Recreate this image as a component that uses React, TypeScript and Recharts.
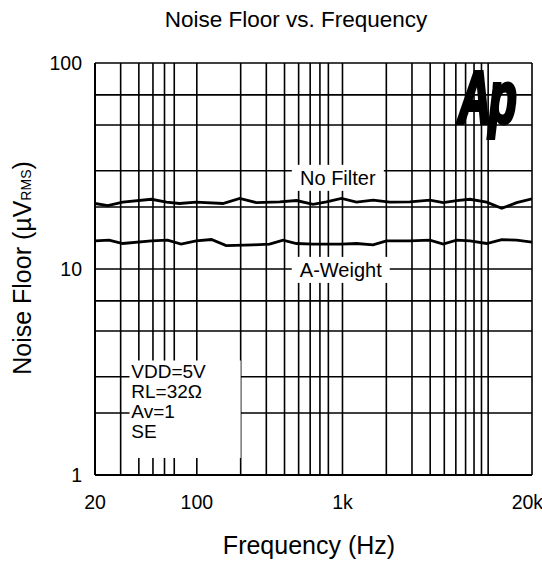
import {
  CartesianGrid,
  Line,
  LineChart,
  ReferenceArea,
  ReferenceDot,
  XAxis,
  YAxis,
} from "recharts";

const noFilterFreq = [20, 24.5, 31, 48.7, 62, 76, 99, 151, 197, 256, 371, 483, 628, 776, 984, 1248, 1623, 2114, 2900, 3980, 4915, 6070, 7500, 9770, 12390, 15700, 20000];
const noFilterVals = [20.8, 20.3, 21.1, 21.8, 21.1, 20.8, 21.1, 20.8, 22.0, 21.0, 21.2, 21.5, 20.6, 21.2, 22.0, 21.1, 21.6, 21.1, 21.2, 21.6, 21.0, 21.5, 21.8, 21.1, 19.7, 21.0, 21.9];

const aWeightFreq = [20, 25, 31, 48.7, 63, 78, 99, 126, 159, 243, 316, 391, 483, 628, 818, 984, 1248, 1623, 2000, 2900, 3980, 4915, 6070, 7500, 9770, 12390, 15700, 20000];
const aWeightVals = [13.7, 13.8, 13.3, 13.7, 13.8, 13.2, 13.7, 13.9, 13.0, 13.1, 13.2, 13.8, 13.3, 13.2, 13.2, 13.2, 13.3, 13.1, 13.7, 13.7, 13.8, 13.2, 13.8, 13.7, 13.3, 13.9, 13.8, 13.5];

const xTicks = [20, 100, 1000, 20000];
const xTickLabels = ["20", "100", "1k", "20k"];
const yTicks = [1, 10, 100];
const xGrid = [20, 30, 40, 50, 60, 70, 80, 90, 100, 200, 300, 400, 500, 600, 700, 800, 900, 1000, 2000, 3000, 4000, 5000, 6000, 7000, 8000, 9000, 10000, 20000];
const yGrid = [1, 2, 3, 4, 5, 6, 7, 8, 9, 10, 20, 30, 40, 50, 60, 70, 80, 90, 100];

const conditions = ["VDD=5V", "RL=32\u03a9", "Av=1", "SE"];

const noFilterData = noFilterFreq.map((f, i) => ({ f, v: noFilterVals[i] }));
const aWeightData = aWeightFreq.map((f, i) => ({ f, v: aWeightVals[i] }));

const FONT = "'Liberation Sans', Arial, sans-serif";

const boxLabel = (text: string, w: number) => (props: any) => {
  const { cx, cy } = props;
  return (
    <g>
      <rect x={cx - w / 2} y={cy - 13} width={w} height={26} fill="#fff" />
      <text x={cx} y={cy + 7} textAnchor="middle" fontSize={20} fontFamily={FONT} fill="#000">
        {text}
      </text>
    </g>
  );
};

const condShape = (props: any) => {
  const { cx, cy } = props;
  return (
    <g>
      {conditions.map((c, i) => (
        <text key={c} x={cx} y={cy + i * 20} fontSize={19} fontFamily={FONT} fill="#000">
          {c}
        </text>
      ))}
    </g>
  );
};

export default function App() {
  return (
    <div style={{ position: "absolute", left: 0, top: 0, width: 542, height: 566, background: "#fff", fontFamily: FONT }}>
      <div style={{ position: "absolute", top: 6, left: 0, width: 592, textAlign: "center", fontSize: 22.5, lineHeight: "28px" }}>
        Noise Floor vs. Frequency
      </div>
      <div style={{ position: "absolute", top: 530, left: 0, width: 618, textAlign: "center", fontSize: 25, lineHeight: "30px" }}>
        Frequency (Hz)
      </div>
      <div
        style={{
          position: "absolute",
          left: 22,
          top: 268,
          fontSize: 25,
          whiteSpace: "nowrap",
          transform: "translate(-50%, -50%) rotate(-90deg)",
        }}
      >
        Noise Floor (µV<span style={{ fontSize: 14 }}>RMS</span>)
      </div>
      <LineChart
        width={542}
        height={566}
        margin={{ top: 63, right: 10, bottom: 0, left: 0 }}
        style={{ position: "absolute", left: 0, top: 0 }}
      >
        <CartesianGrid
          stroke="#000"
          strokeWidth={1.6}
          verticalValues={xGrid}
          horizontalValues={yGrid}
        />
        <XAxis
          dataKey="f"
          type="number"
          scale="log"
          domain={[20, 20000]}
          ticks={xTicks}
          tickFormatter={(v: number) => xTickLabels[xTicks.indexOf(v)] ?? ""}
          allowDataOverflow
          height={91}
          tickLine={false}
          axisLine={{ stroke: "#000", strokeWidth: 2 }}
          tick={{ fill: "#000", fontSize: 19.5, fontFamily: FONT }}
          tickMargin={14}
        />
        <YAxis
          dataKey="v"
          type="number"
          scale="log"
          domain={[1, 100]}
          ticks={yTicks}
          allowDataOverflow
          width={95}
          tickLine={false}
          axisLine={{ stroke: "#000", strokeWidth: 2 }}
          tick={{ fill: "#000", fontSize: 19.5, fontFamily: FONT }}
          tickMargin={7}
        />
        <ReferenceArea x1={34.5} x2={200} y1={1.21} y2={3.6} fill="#fff" fillOpacity={1} stroke="none" />
        <ReferenceDot x={35.5} y={2.95} r={0} shape={condShape} />
        <Line
          data={noFilterData}
          dataKey="v"
          type="linear"
          stroke="#000"
          strokeWidth={2.8}
          dot={false}
          isAnimationActive={false}
        />
        <Line
          data={aWeightData}
          dataKey="v"
          type="linear"
          stroke="#000"
          strokeWidth={2.8}
          dot={false}
          isAnimationActive={false}
        />
        <ReferenceDot x={929} y={27.7} r={0} shape={boxLabel("No Filter", 92)} />
        <ReferenceDot x={973} y={9.9} r={0} shape={boxLabel("A-Weight", 98)} />
      </LineChart>
      <svg width={542} height={566} style={{ position: "absolute", left: 0, top: 0, pointerEvents: "none" }}>
        <text
          transform="translate(458,123) scale(0.62,1)"
          fontSize={74}
          fontWeight="bold"
          fontStyle="italic"
          fontFamily={FONT}
          fill="#000"
          stroke="#000"
          strokeWidth={4}
          letterSpacing={-4}
        >
          Ap
        </text>
      </svg>
    </div>
  );
}
